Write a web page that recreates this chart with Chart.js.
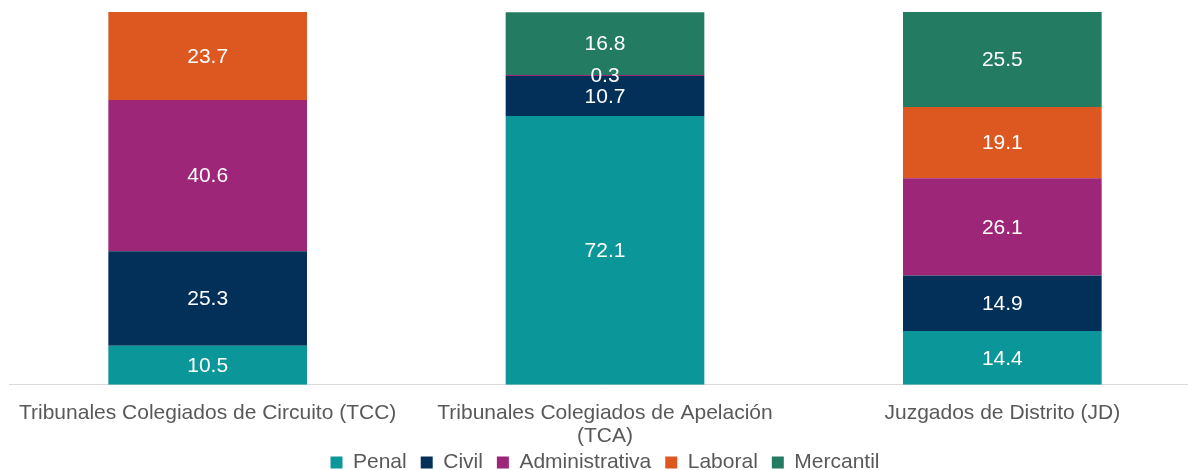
<!DOCTYPE html>
<html>
<head>
<meta charset="utf-8">
<script src="https://cdn.jsdelivr.net/npm/chart.js@4"></script>
<style>
  html, body { margin: 0; padding: 0; background: #ffffff; overflow: hidden; }
  .container { width: 1202px; height: 470px; }
</style>
</head>
<body>
<div class="container">
  <canvas id="chart"></canvas>
</div>
<script>
const categories = [
  'Tribunales Colegiados de Circuito (TCC)',
  ['Tribunales Colegiados de Apelación', '(TCA)'],
  'Juzgados de Distrito (JD)'
]
const seriesNames = ['Penal', 'Civil', 'Administrativa', 'Laboral', 'Mercantil']
const penal = [10.5, 72.1, 14.4]
const civil = [25.3, 10.7, 14.9]
const administrativa = [40.6, 0.3, 26.1]
const laboral = [23.7, 0, 19.1]
const mercantil = [0, 16.8, 25.5]
const seriesColors = ['#0b979a', '#023058', '#9d2678', '#dd5720', '#237b62']

const seriesValues = [penal, civil, administrativa, laboral, mercantil]
const FONT = '"Liberation Sans", Arial, sans-serif'

const barLabels = {
  id: 'barLabels',
  afterDatasetsDraw: (chart) => {
    const {ctx} = chart
    ctx.save()
    ctx.font = '21px ' + FONT
    ctx.fillStyle = '#ffffff'
    ctx.textAlign = 'center'
    ctx.textBaseline = 'middle'
    chart.data.datasets.forEach((ds, i) => {
      const meta = chart.getDatasetMeta(i)
      meta.data.forEach((bar, j) => {
        const v = ds.data[j]
        if (!v) return
        const yMid = (bar.y + bar.base) / 2
        ctx.fillText(v.toFixed(1), bar.x, yMid + 1)
      })
    })
    ctx.restore()
  }
}

// nudge the legend up a little, closer to the axis labels
const legendShift = {
  id: 'legendShift',
  afterLayout: (chart) => {
    if (!chart.legend) return
    chart.legend.top -= 9
    chart.legend.bottom -= 9
  }
}

const ctx = document.getElementById('chart').getContext('2d')
new Chart(ctx, {
  type: 'bar',
  data: {
    labels: categories,
    datasets: seriesNames.map((name, i) => ({
      label: name,
      data: seriesValues[i],
      backgroundColor: seriesColors[i],
      borderWidth: 0,
      barPercentage: 0.5,
      categoryPercentage: 1
    }))
  },
  options: {
    responsive: true,
    maintainAspectRatio: false,
    animation: false,
    layout: { padding: { left: 9, right: 1, top: 12, bottom: -22 } },
    scales: {
      x: {
        stacked: true,
        grid: { display: false },
        border: { color: '#d9d9d9', width: 1 },
        ticks: {
          color: '#595959',
          font: { family: FONT, size: 21, lineHeight: 1.1 },
          maxRotation: 0,
          padding: 9
        },
        afterFit: (scale) => { scale.height -= 10 }
      },
      y: {
        stacked: true,
        display: false,
        min: 0,
        max: 100
      }
    },
    plugins: {
      legend: {
        position: 'bottom',
        labels: {
          color: '#595959',
          font: { family: FONT, size: 21 },
          boxWidth: 12,
          boxHeight: 12,
          padding: 14
        }
      },
      tooltip: { enabled: false }
    }
  },
  plugins: [barLabels, legendShift]
})
</script>
</body>
</html>
